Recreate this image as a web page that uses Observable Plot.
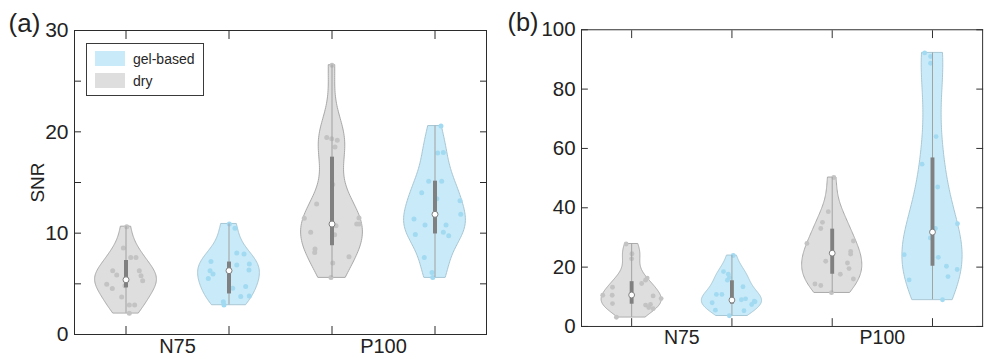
<!DOCTYPE html>
<html>
<head>
<meta charset="utf-8">
<script src="https://cdn.jsdelivr.net/npm/d3@7"></script>
<script src="https://cdn.jsdelivr.net/npm/@observablehq/plot@0.6"></script>
<style>
  html, body { margin: 0; padding: 0; background: #fff; overflow: hidden; }
  #wrap { position: relative; width: 988px; height: 359px; overflow: hidden; font-family: "Liberation Sans", Arial, sans-serif; }
  #pa { position: absolute; left: 0; top: 0; }
  #pb { position: absolute; left: 500px; top: 0; }
  .legend { position: absolute; left: 86px; top: 43px; width: 118px; height: 53px; border: 1px solid #3a3a3a; background: #fff; box-sizing: border-box; }
  .item { position: absolute; left: 8px; height: 15px; display: flex; align-items: center; }
  .sw { width: 30px; height: 15px; margin-right: 8px; }
  .lab { font-size: 14px; color: #262626; }
</style>
</head>
<body>
<div id="wrap">
  <div id="pa"></div>
  <div id="pb"></div>
  <div class="legend" id="legend"></div>
</div>
<script>
// ---------- data ----------
const groups = ["N75", "P100"];
const conditions = ["dry", "gel-based"];
const legendOrder = ["gel-based", "dry"];

// Panel (a): SNR
const snrN75Dry   = [10.64, 8.53, 7.61, 7.61, 6.29, 6.29, 5.86, 5.79, 5.30, 4.97, 4.80, 4.54, 3.71, 2.92, 2.92, 2.10];
const jitN75Dry   = [0.007, -0.026, 0.046, 0.097, -0.129, 0.129, -0.090, 0.146, 0.162, -0.187, -0.010, -0.133, -0.042, 0.032, 0.084, 0.032];
const snrN75Gel   = [10.91, 10.48, 8.04, 7.94, 7.21, 6.95, 6.85, 6.36, 6.29, 5.96, 5.53, 4.73, 4.57, 3.81, 3.74, 3.22, 2.92];
const jitN75Gel   = [0.003, 0.058, 0.075, 0.146, -0.175, 0.197, 0.075, 0.194, -0.184, -0.155, -0.201, 0.162, 0.036, 0.197, 0.114, -0.055, -0.049];
const snrP100Dry  = [26.58, 19.43, 19.32, 19.16, 18.5, 14.8, 12.89, 11.47, 11.5, 10.9, 10.9, 10.74, 10.08, 9.85, 8.43, 8.1, 7.67, 7.05, 5.62];
const jitP100Dry  = [0, -0.051, -0.003, 0.051, 0.029, 0.007, -0.149, -0.269, 0.262, 0.240, 0.265, 0.039, -0.207, 0.026, -0.165, -0.168, 0.165, 0.007, -0.010];
const snrP100Gel  = [20.57, 17.9, 17.97, 15.13, 15.13, 13.98, 13.39, 13.19, 11.86, 11.4, 10.81, 10.81, 10.08, 9.88, 9.75, 7.61, 6.12, 5.62];
const jitP100Gel  = [0.058, 0.026, 0.081, -0.061, 0.065, -0.129, 0.017, 0.243, 0.250, -0.204, -0.097, 0.107, 0.081, -0.191, 0.133, -0.104, -0.029, -0.022];
// order: N75 dry, N75 gel, P100 dry, P100 gel
const medianA = [5.4, 6.3, 10.9, 11.86];
const q1A     = [4.6, 4.0, 8.76, 9.92];
const q3A     = [7.3, 7.15, 17.5, 15.13];

// Panel (b)
const valN75Dry   = [27.8, 24.5, 22.8, 16.3, 15.6, 14.5, 13.2, 10.5, 10.5, 10.3, 9.4, 7.7, 7.4, 7.2, 6.4, 6.0, 3.1];
const jtbN75Dry   = [-0.055, 0.003, 0, 0.155, 0.139, 0.100, -0.191, -0.194, -0.288, 0.214, 0.294, -0.191, 0.188, 0.139, 0.171, 0.214, -0.152];
const valN75Gel   = [23.9, 18.5, 17.6, 16.5, 15.6, 13.4, 10.8, 10.8, 9.0, 9.3, 8.5, 8.3, 7.4, 8.0, 5.5, 5.3, 3.6];
const jtbN75Gel   = [0.013, -0.084, -0.036, -0.026, -0.045, 0.110, -0.155, -0.100, 0.094, 0.136, 0.223, 0.230, 0.197, -0.197, -0.165, 0.120, -0.026];
const valP100Dry  = [50.2, 38.7, 35.1, 33.0, 28.0, 28.8, 25.3, 24.4, 22.0, 21.4, 19.5, 17.6, 16.0, 14.3, 13.8, 11.4];
const jtbP100Dry  = [0.016, -0.039, -0.097, -0.114, -0.252, 0.211, 0.184, 0.184, -0.065, 0.152, 0.168, 0.081, 0.211, -0.172, -0.114, -0.007];
const valP100Gel  = [92.2, 91.0, 88.7, 64.0, 54.7, 47.0, 34.6, 33.0, 29.8, 24.2, 23.3, 20.3, 19.2, 16.8, 15.7, 9.0];
const jtbP100Gel  = [-0.078, -0.019, -0.019, 0.036, -0.104, 0.052, 0.249, 0.029, -0.022, -0.282, 0.058, 0.139, 0.246, 0.155, -0.233, 0.100];
const medianB = [10.6, 8.9, 24.7, 31.8];
const q1B     = [7.5, 7.5, 17.6, 20.3];
const q3B     = [15.1, 15.4, 32.8, 56.8];

// axis ticks
const yLabelsA = [0, 10, 20, 30];
const yTicksA  = [0, 5, 10, 15, 20, 25, 30];
const yLabelsB = [0, 20, 40, 60, 80, 100];
const yTicksB  = [0, 20, 40, 60, 80, 100];

// ---------- styling ----------
const fillColor   = {"dry": "#dedede", "gel-based": "#c9eaf8"};
const edgeColor   = {"dry": "#a8a8a8", "gel-based": "#a6c6d4"};
const pointColor  = {"dry": "#c3c3c3", "gel-based": "#a2daf2"};
const axisColor = "#2b2b2b";

// ---------- helpers ----------
function kde(values, n = 100) {
  const N = values.length;
  const med = d3.median(values);
  const sig = d3.median(values, v => Math.abs(v - med)) / 0.6745;
  const bw = sig * Math.pow(4 / (3 * N), 1 / 5);
  const [lo, hi] = d3.extent(values);
  const ys = d3.range(n).map(i => lo + (hi - lo) * i / (n - 1));
  const dens = ys.map(y => d3.sum(values, v => Math.exp(-0.5 * ((y - v) / bw) ** 2)));
  const mx = d3.max(dens);
  return ys.map((y, i) => ({y, w: dens[i] / mx}));
}

function buildViolins(sets, medians, q1s, q3s) {
  const out = [];
  let k = 0;
  groups.forEach((g, gi) => conditions.forEach((c, ci) => {
    const [values, jit] = sets[k];
    out.push({group: g, cond: c, pos: gi * 2 + ci + 1, values, jit,
      median: medians[k], q1: q1s[k], q3: q3s[k],
      lo: d3.min(values), hi: d3.max(values)});
    k++;
  }));
  return out;
}

function panel(violins, opts) {
  const width0 = 0.3;
  const marks = [];
  for (const c of conditions) {
    const vs = violins.filter(v => v.cond === c);
    const rows = vs.flatMap(v => kde(v.values).map(d => ({pos: v.pos, y: d.y, x1: v.pos - width0 * d.w, x2: v.pos + width0 * d.w})));
    marks.push(Plot.areaX(rows, {y: "y", x1: "x1", x2: "x2", z: "pos", fill: fillColor[c], stroke: edgeColor[c], strokeWidth: 1, curve: "linear"}));
  }
  for (const c of conditions) {
    const vs = violins.filter(v => v.cond === c);
    const pts = vs.flatMap(v => v.values.map((y, i) => ({x: v.pos + v.jit[i], y})));
    marks.push(Plot.dot(pts, {x: "x", y: "y", r: 2.5, fill: pointColor[c], stroke: "none"}));
  }
  marks.push(Plot.ruleX(violins, {x: "pos", y1: "lo", y2: "hi", stroke: "#a0a0a0", strokeWidth: 1}));
  marks.push(Plot.ruleX(violins, {x: "pos", y1: "q1", y2: "q3", stroke: "#808080", strokeWidth: 4}));
  marks.push(Plot.dot(violins, {x: "pos", y: "median", r: 3, fill: "white", stroke: "#808080", strokeWidth: 1}));

  const positions = violins.map(v => v.pos);
  const centers = groups.map(g => d3.mean(violins.filter(v => v.group === g), v => v.pos));
  const nameAt = new Map(centers.map((c, i) => [c, groups[i]]));

  marks.push(Plot.frame({stroke: axisColor, strokeWidth: 1}));
  marks.push(Plot.axisY({ticks: opts.labels, tickSize: 0, tickPadding: 6, label: null, fontSize: 21, fill: "#222"}));
  marks.push(Plot.axisY({ticks: opts.ticks, tickSize: -7, tickFormat: () => "", label: null, stroke: axisColor}));
  marks.push(Plot.axisY({anchor: "right", ticks: opts.ticks, tickSize: -7, tickFormat: () => "", label: null, stroke: axisColor}));
  marks.push(Plot.axisX({ticks: positions, tickSize: -8, tickFormat: () => "", label: null, stroke: axisColor}));
  marks.push(Plot.axisX({anchor: "top", ticks: positions, tickSize: -8, tickFormat: () => "", label: null, stroke: axisColor}));
  marks.push(Plot.axisX({ticks: centers, tickSize: 0, tickPadding: 4, tickFormat: d => nameAt.get(d), label: null, fontSize: 20, fill: "#222"}));
  marks.push(Plot.text([opts.tag], {frameAnchor: "top-left", dx: opts.tagDx, dy: -7, fontSize: 26, fill: "#222", textAnchor: "middle", lineAnchor: "middle"}));
  if (opts.ylabel) {
    marks.push(Plot.text([opts.ylabel], {frameAnchor: "left", dx: -37, rotate: -90, fontSize: 19, fill: "#222", textAnchor: "middle", lineAnchor: "middle"}));
  }

  return Plot.plot({
    width: 500, height: 359,
    marginTop: 30, marginBottom: 25, marginLeft: opts.ml, marginRight: opts.mr,
    x: {domain: [0.5, 4.5]},
    y: {domain: [0, opts.ymax]},
    style: {fontFamily: '"Liberation Sans", Arial, sans-serif', fontSize: "21px", color: "#222", background: "transparent", overflow: "visible"},
    marks
  });
}

const violinsA = buildViolins(
  [[snrN75Dry, jitN75Dry], [snrN75Gel, jitN75Gel], [snrP100Dry, jitP100Dry], [snrP100Gel, jitP100Gel]],
  medianA, q1A, q3A);
const violinsB = buildViolins(
  [[valN75Dry, jtbN75Dry], [valN75Gel, jtbN75Gel], [valP100Dry, jtbP100Dry], [valP100Gel, jtbP100Gel]],
  medianB, q1B, q3B);

document.getElementById("pa").append(panel(violinsA, {ml: 74, mr: 14, ymax: 30, labels: yLabelsA, ticks: yTicksA, tag: "(a)", tagDx: -50, ylabel: "SNR"}));
document.getElementById("pb").append(panel(violinsB, {ml: 83, mr: 6, ymax: 100, labels: yLabelsB, ticks: yTicksB, tag: "(b)", tagDx: -60, ylabel: null}));

// legend
const legend = document.getElementById("legend");
legendOrder.forEach((c, i) => {
  const item = document.createElement("div");
  item.className = "item";
  item.style.top = (7 + i * 22) + "px";
  const sw = document.createElement("div");
  sw.className = "sw";
  sw.style.background = fillColor[c];
  const lab = document.createElement("span");
  lab.className = "lab";
  lab.textContent = c;
  item.append(sw, lab);
  legend.append(item);
});
</script>
</body>
</html>
